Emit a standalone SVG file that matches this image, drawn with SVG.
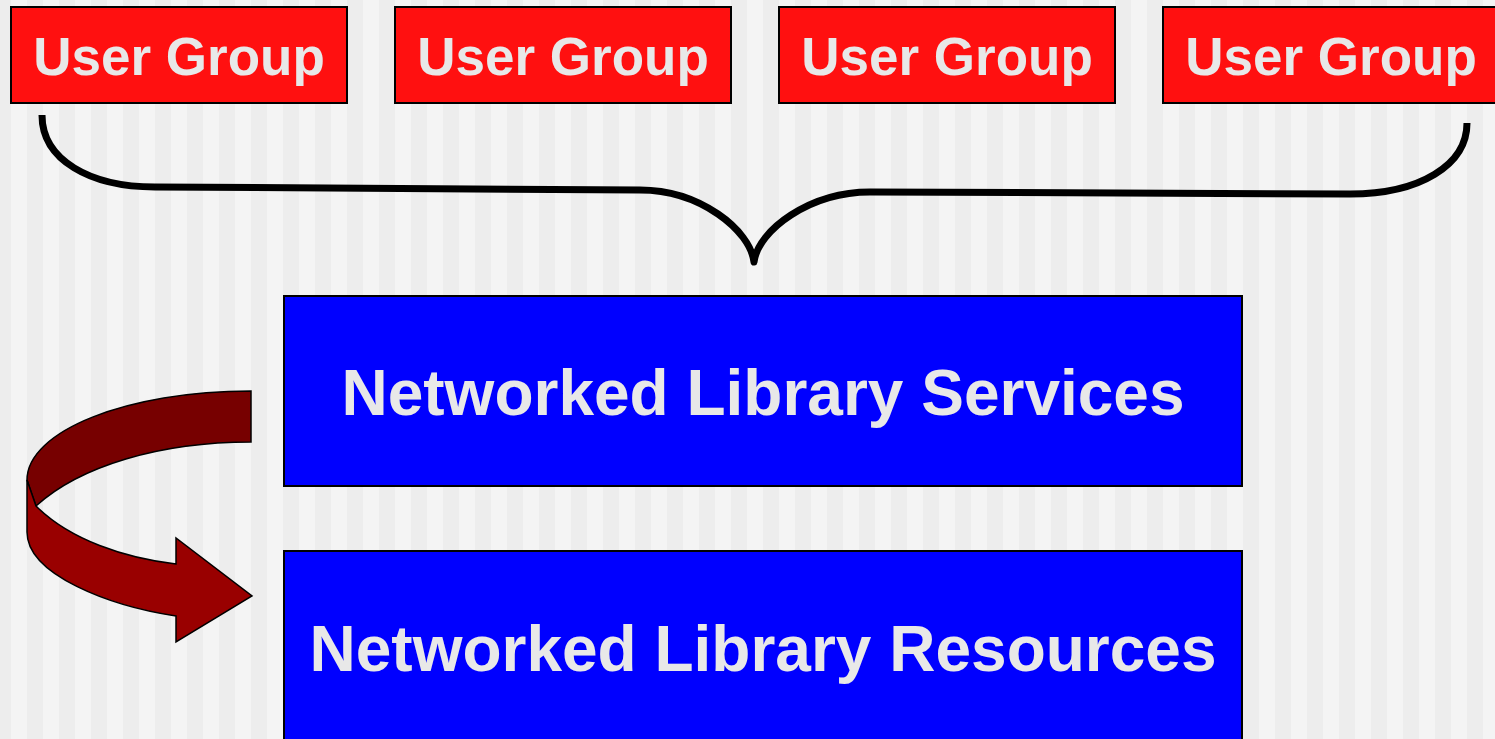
<svg xmlns="http://www.w3.org/2000/svg" width="1495" height="739" viewBox="0 0 1495 739">
<defs>
<pattern id="stripes" x="-5" y="0" width="32" height="739" patternUnits="userSpaceOnUse">
<rect x="0" y="0" width="16" height="739" fill="#ededed"/>
<rect x="16" y="0" width="16" height="739" fill="#f4f4f4"/>
</pattern>
<style>
.ug rect{fill:#ff1010;stroke:#000;stroke-width:2}
.ug text{font-family:"Liberation Sans",Arial,sans-serif;font-weight:bold;font-size:53px;fill:#e8e8e8;text-anchor:middle}
.nl rect{fill:#0000ff;stroke:#000;stroke-width:2}
.nl text{font-family:"Liberation Sans",Arial,sans-serif;font-weight:bold;font-size:64px;fill:#e8e8e8;text-anchor:middle}
.brace{fill:none;stroke:#000;stroke-width:7;stroke-linejoin:round}
.arrow path{stroke:#000;stroke-width:1.5;stroke-linejoin:miter}
</style>
</defs>
<rect x="0" y="0" width="1495" height="739" fill="url(#stripes)"/>
<g id="user-group-1" class="ug"><rect x="11" y="7" width="336" height="96"/><text x="179" y="75">User Group</text></g>
<g id="user-group-2" class="ug"><rect x="395" y="7" width="336" height="96"/><text x="563" y="75">User Group</text></g>
<g id="user-group-3" class="ug"><rect x="779" y="7" width="336" height="96"/><text x="947" y="75">User Group</text></g>
<g id="user-group-4" class="ug"><rect x="1163" y="7" width="336" height="96"/><text x="1331" y="75">User Group</text></g>
<g id="services" class="nl"><rect x="284" y="296" width="958" height="190"/><text x="763" y="415">Networked Library Services</text></g>
<g id="resources" class="nl"><rect x="284" y="551" width="958" height="200"/><text x="763" y="671">Networked Library Resources</text></g>
<g id="connectors">
<path class="brace" d="M42,115 C42,160 90,187 155,187 L640,190 C700,190 750,230 754,262 C758,230 810,192 870,192 L1350,194 C1420,194 1467,165 1467,123"/>
<g class="arrow">
<path fill="#770000" d="M251,391 C127,391 27,431 27,480 L36,506 C80,466 160,442 251,442 Z"/>
<path fill="#990000" d="M27,480 L36,506 C70,540 125,558 176,564 L176,538 L252,596 L176,642 L176,616 C110,606 27,575 27,532 Z"/>
</g>
</g>
</svg>
